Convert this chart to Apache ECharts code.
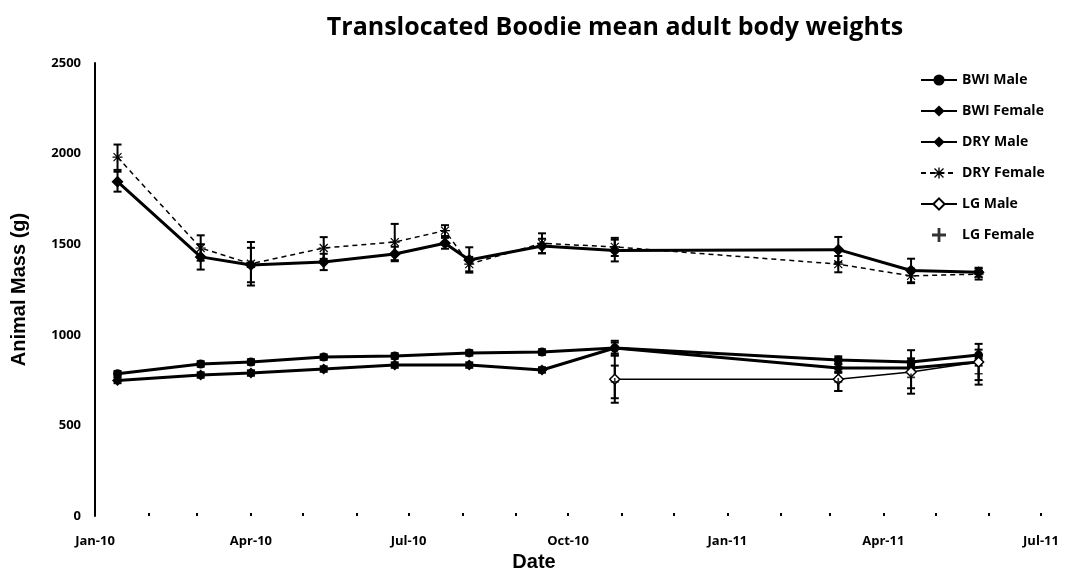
<!DOCTYPE html>
<html>
<head>
<meta charset="utf-8">
<script src="https://cdn.jsdelivr.net/npm/echarts@6/dist/echarts.min.js"></script>
<style>
html,body{margin:0;padding:0;background:#fff;}
#chart{width:1071px;height:575px;}
</style>
</head>
<body>
<div id="chart"></div>
<script>
// ---- data ----
const tickDates = ['2010-01-01','2010-04-01','2010-07-01','2010-10-01','2011-01-01','2011-04-01','2011-07-01'];
const tickLabels = ['Jan-10','Apr-10','Jul-10','Oct-10','Jan-11','Apr-11','Jul-11'];
const monthDates = ['2010-01-01','2010-02-01','2010-03-01','2010-04-01','2010-05-01','2010-06-01','2010-07-01','2010-08-01','2010-09-01','2010-10-01','2010-11-01','2010-12-01','2011-01-01','2011-02-01','2011-03-01','2011-04-01','2011-05-01','2011-06-01','2011-07-01'];

const dryDates = ['2010-01-14','2010-03-03','2010-04-01','2010-05-13','2010-06-23','2010-07-22','2010-08-05','2010-09-16','2010-10-28','2011-03-06','2011-04-17','2011-05-26'];
const dryMale      = [1845, 1430, 1385, 1402, 1446, 1505, 1413, 1490, 1465, 1470, 1355, 1345];
const dryMaleErr   = [55, 70, 95, 45, 40, 30, 70, 40, 60, 70, 65, 25];
const dryFemale    = [1980, 1479, 1392, 1479, 1512, 1575, 1390, 1505, 1485, 1390, 1325, 1335];
const dryFemaleErr = [70, 70, 120, 60, 100, 30, 40, 55, 50, 45, 40, 30];

const bwiDates = ['2010-01-14','2010-03-03','2010-04-01','2010-05-13','2010-06-23','2010-08-05','2010-09-16','2010-10-28','2011-03-06','2011-04-17','2011-05-26'];
const bwiMale      = [785, 839, 850, 877, 883, 900, 905, 927, 861, 850, 888];
const bwiMaleErr   = [15, 15, 15, 15, 15, 15, 15, 40, 20, 20, 30];
const bwiFemale    = [748, 778, 789, 811, 833, 833, 806, 927, 817, 817, 850];
const bwiFemaleErr = [15, 15, 15, 15, 15, 15, 15, 30, 20, 20, 20];

const lgDates = ['2010-10-28','2011-03-06','2011-04-17','2011-05-26'];
const lgMale      = [755, 755, 795, 850];
const lgMaleErr   = [130, 65, 120, 100];
const lgFemale    = [740, 740, 765, 785];
const lgFemaleErr = [90, 50, 60, 60];

// ---- helpers ----
const base = Date.UTC(2010, 0, 1);
function day(s){ const p = s.split('-').map(Number); return (Date.UTC(p[0], p[1]-1, p[2]) - base) / 86400000; }
const tickDays = tickDates.map(day);
const monthDays = monthDates.map(day);

function pts(dates, vals){ return dates.map((d,i)=>[day(d), vals[i]]); }
function errSeries(dates, vals, errs){
  return {
    type:'custom', silent:true, z:1,
    encode:{x:0, y:[1,2]},
    data: dates.map((d,i)=>[day(d), vals[i]-errs[i], vals[i]+errs[i]]),
    renderItem:function(params, api){
      const x = api.value(0), lo = api.value(1), hi = api.value(2);
      const a = api.coord([x, hi]), b = api.coord([x, lo]); const w = 4;
      const st = {stroke:'#000', lineWidth:2};
      return {type:'group', children:[
        {type:'line', shape:{x1:a[0],y1:a[1],x2:b[0],y2:b[1]}, style:st},
        {type:'line', shape:{x1:a[0]-w,y1:a[1],x2:a[0]+w,y2:a[1]}, style:st},
        {type:'line', shape:{x1:b[0]-w,y1:b[1],x2:b[0]+w,y2:b[1]}, style:st}
      ]};
    }
  };
}
const PLUS = 'path://M4,0H6V4H10V6H6V10H4V6H0V4H4Z';
const STAR = 'path://M4.4,0H5.6V4.4H10V5.6H5.6V10H4.4V5.6H0V4.4H4.4Z M1.4,0.6L9.4,8.6L8.6,9.4L0.6,1.4Z M8.6,0.6L9.4,1.4L1.4,9.4L0.6,8.6Z';

const chart = echarts.init(document.getElementById('chart'));
chart.setOption({
  animation:false,
  backgroundColor:'#fff',
  title:{
    text:'Translocated Boodie mean adult body weights',
    left:610, top:10, textAlign:'center',
    textStyle:{fontFamily:'Open Sans', fontWeight:'bold', fontSize:25, color:'#000'}
  },
  legend:{
    orient:'vertical', left:915, top:68, itemWidth:36, itemHeight:14, itemGap:17,
    textStyle:{fontFamily:'Open Sans', fontWeight:'bold', fontSize:14, color:'#000'},
    data:['BWI Male','BWI Female','DRY Male','DRY Female','LG Male','LG Female']
  },
  grid:{left:95, right:30, top:63, bottom:59, outerBoundsMode:'none', containLabel:false},
  xAxis:{
    type:'value', min:0, max:546,
    name:'Date', nameLocation:'middle', nameGap:29,
    nameTextStyle:{fontFamily:'Liberation Sans', fontWeight:'bold', fontSize:20, color:'#000', padding:[0,68,0,0]},
    axisLine:{show:false},
    axisTick:{show:true, customValues:monthDays, length:3, inside:true, lineStyle:{color:'#000', width:2}},
    axisLabel:{customValues:tickDays, margin:19, fontFamily:'Open Sans', fontWeight:'bold', fontSize:13, color:'#000',
      formatter:function(v){ const i = tickDays.indexOf(v); return i>=0 ? tickLabels[i] : ''; }},
    splitLine:{show:false}
  },
  yAxis:{
    type:'value', min:0, max:2500, interval:500,
    name:'Animal Mass (g)', nameLocation:'middle', nameGap:66, nameRotate:90,
    nameTextStyle:{fontFamily:'Liberation Sans', fontWeight:'bold', fontSize:20, color:'#000'},
    axisLine:{show:true, lineStyle:{color:'#000', width:2}},
    axisTick:{show:false},
    axisLabel:{margin:14, fontFamily:'Open Sans', fontWeight:'bold', fontSize:13, color:'#000',
      formatter:function(v){ return String(v); }},
    splitLine:{show:false}
  },
  series:[
    {name:'BWI Male', type:'line', data:pts(bwiDates,bwiMale), symbol:'circle', symbolSize:9, z:3,
      lineStyle:{color:'#000', width:3}, itemStyle:{color:'#000'}},
    {name:'BWI Female', type:'line', data:pts(bwiDates,bwiFemale), symbol:'diamond', symbolSize:11, z:3,
      lineStyle:{color:'#000', width:3}, itemStyle:{color:'#000'}},
    {name:'DRY Male', type:'line', data:pts(dryDates,dryMale), symbol:'diamond', symbolSize:12, z:3,
      lineStyle:{color:'#000', width:3}, itemStyle:{color:'#000'}},
    {name:'DRY Female', type:'line', data:pts(dryDates,dryFemale), symbol:STAR, symbolSize:10, z:3,
      lineStyle:{color:'#000', width:1.5, type:[5,4]}, itemStyle:{color:'#000'}},
    {name:'LG Male', type:'line', data:pts(lgDates,lgMale), symbol:'diamond', symbolSize:10, z:3,
      lineStyle:{color:'#000', width:1.5}, itemStyle:{color:'#fff', borderColor:'#000', borderWidth:1.5}},
    {name:'LG Female', type:'scatter', data:pts(lgDates,lgFemale), symbol:PLUS, symbolSize:8, z:3,
      itemStyle:{color:'#000'}},
    errSeries(dryDates, dryMale, dryMaleErr),
    errSeries(dryDates, dryFemale, dryFemaleErr),
    errSeries(bwiDates, bwiMale, bwiMaleErr),
    errSeries(bwiDates, bwiFemale, bwiFemaleErr),
    errSeries(lgDates, lgMale, lgMaleErr),
    errSeries(lgDates, lgFemale, lgFemaleErr)
  ]
});
</script>
</body>
</html>
